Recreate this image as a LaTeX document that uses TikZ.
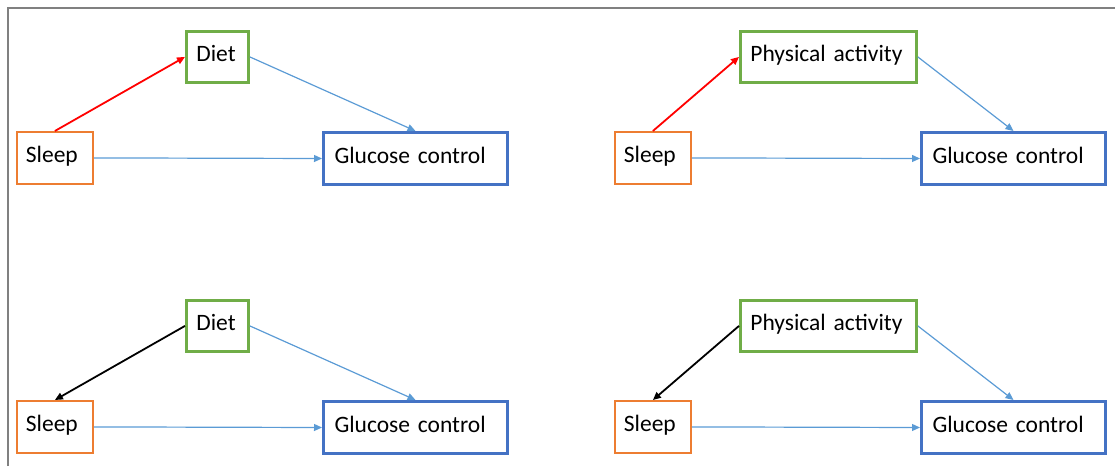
\documentclass[tikz,border=0pt]{standalone}
\usepackage{fontspec}
\setmainfont{Carlito}
\usetikzlibrary{arrows.meta}
\definecolor{sleepc}{HTML}{ED7D31}
\definecolor{medc}{HTML}{70AD47}
\definecolor{outc}{HTML}{4472C4}
\definecolor{linkc}{HTML}{5B9BD5}
\definecolor{framec}{HTML}{808080}
\tikzset{
  box/.style={draw, rectangle, anchor=north west, inner ysep=0pt, align=left,
    font=\fontsize{23.5}{26}\selectfont, text height=16pt, text depth=7pt},
  sleepbox/.style={box, draw=sleepc, line width=1.8pt, minimum width=76pt,
    minimum height=52pt, inner xsep=9pt, text width=58pt},
  medbox/.style={box, draw=medc, line width=2.8pt, minimum height=51pt, inner xsep=10pt},
  outbox/.style={box, draw=outc, line width=3pt, minimum width=184pt,
    minimum height=52pt, inner xsep=11pt, text width=162pt},
  tip/.style={-{Triangle[length=8pt,width=7pt]}},
  link/.style={tip, draw=linkc, line width=1.2pt},
  redlink/.style={tip, draw=red, line width=1.8pt},
  blacklink/.style={tip, draw=black, line width=1.8pt},
}
\begin{document}
\begin{tikzpicture}[x=1pt,y=-1pt]
\useasboundingbox (0,0) rectangle (1115,466);
% outer frame
\draw[framec, line width=1.4pt] (8,466) -- (8,8) -- (1115,8);

% top left: sleep -> diet -> glucose
\node[sleepbox] (s1) at (16,131) {Sleep};
\node[medbox, minimum width=62pt, text width=42pt] (m1) at (185,30) {Diet};
\node[outbox] (g1) at (322,131) {Glucose control};
\draw[redlink] (s1.north) -- (m1.west);
\draw[link] (m1.east) -- (g1.north);
\draw[link] (s1.east) -- (g1.west);

% top right: sleep -> physical activity -> glucose
\node[sleepbox] (s2) at (614,131) {Sleep};
\node[medbox, minimum width=176pt, text width=156pt] (m2) at (739,30) {Physical activity};
\node[outbox] (g2) at (920,131) {Glucose control};
\draw[redlink] (s2.north) -- (m2.west);
\draw[link] (m2.east) -- (g2.north);
\draw[link] (s2.east) -- (g2.west);

% bottom left: diet -> sleep, diet -> glucose
\node[sleepbox] (s3) at (16,400) {Sleep};
\node[medbox, minimum width=62pt, text width=42pt] (m3) at (185,299) {Diet};
\node[outbox] (g3) at (322,400) {Glucose control};
\draw[blacklink] (m3.west) -- (s3.north);
\draw[link] (m3.east) -- (g3.north);
\draw[link] (s3.east) -- (g3.west);

% bottom right: physical activity -> sleep, physical activity -> glucose
\node[sleepbox] (s4) at (614,400) {Sleep};
\node[medbox, minimum width=176pt, text width=156pt] (m4) at (739,299) {Physical activity};
\node[outbox] (g4) at (920,400) {Glucose control};
\draw[blacklink] (m4.west) -- (s4.north);
\draw[link] (m4.east) -- (g4.north);
\draw[link] (s4.east) -- (g4.west);
\end{tikzpicture}
\end{document}
